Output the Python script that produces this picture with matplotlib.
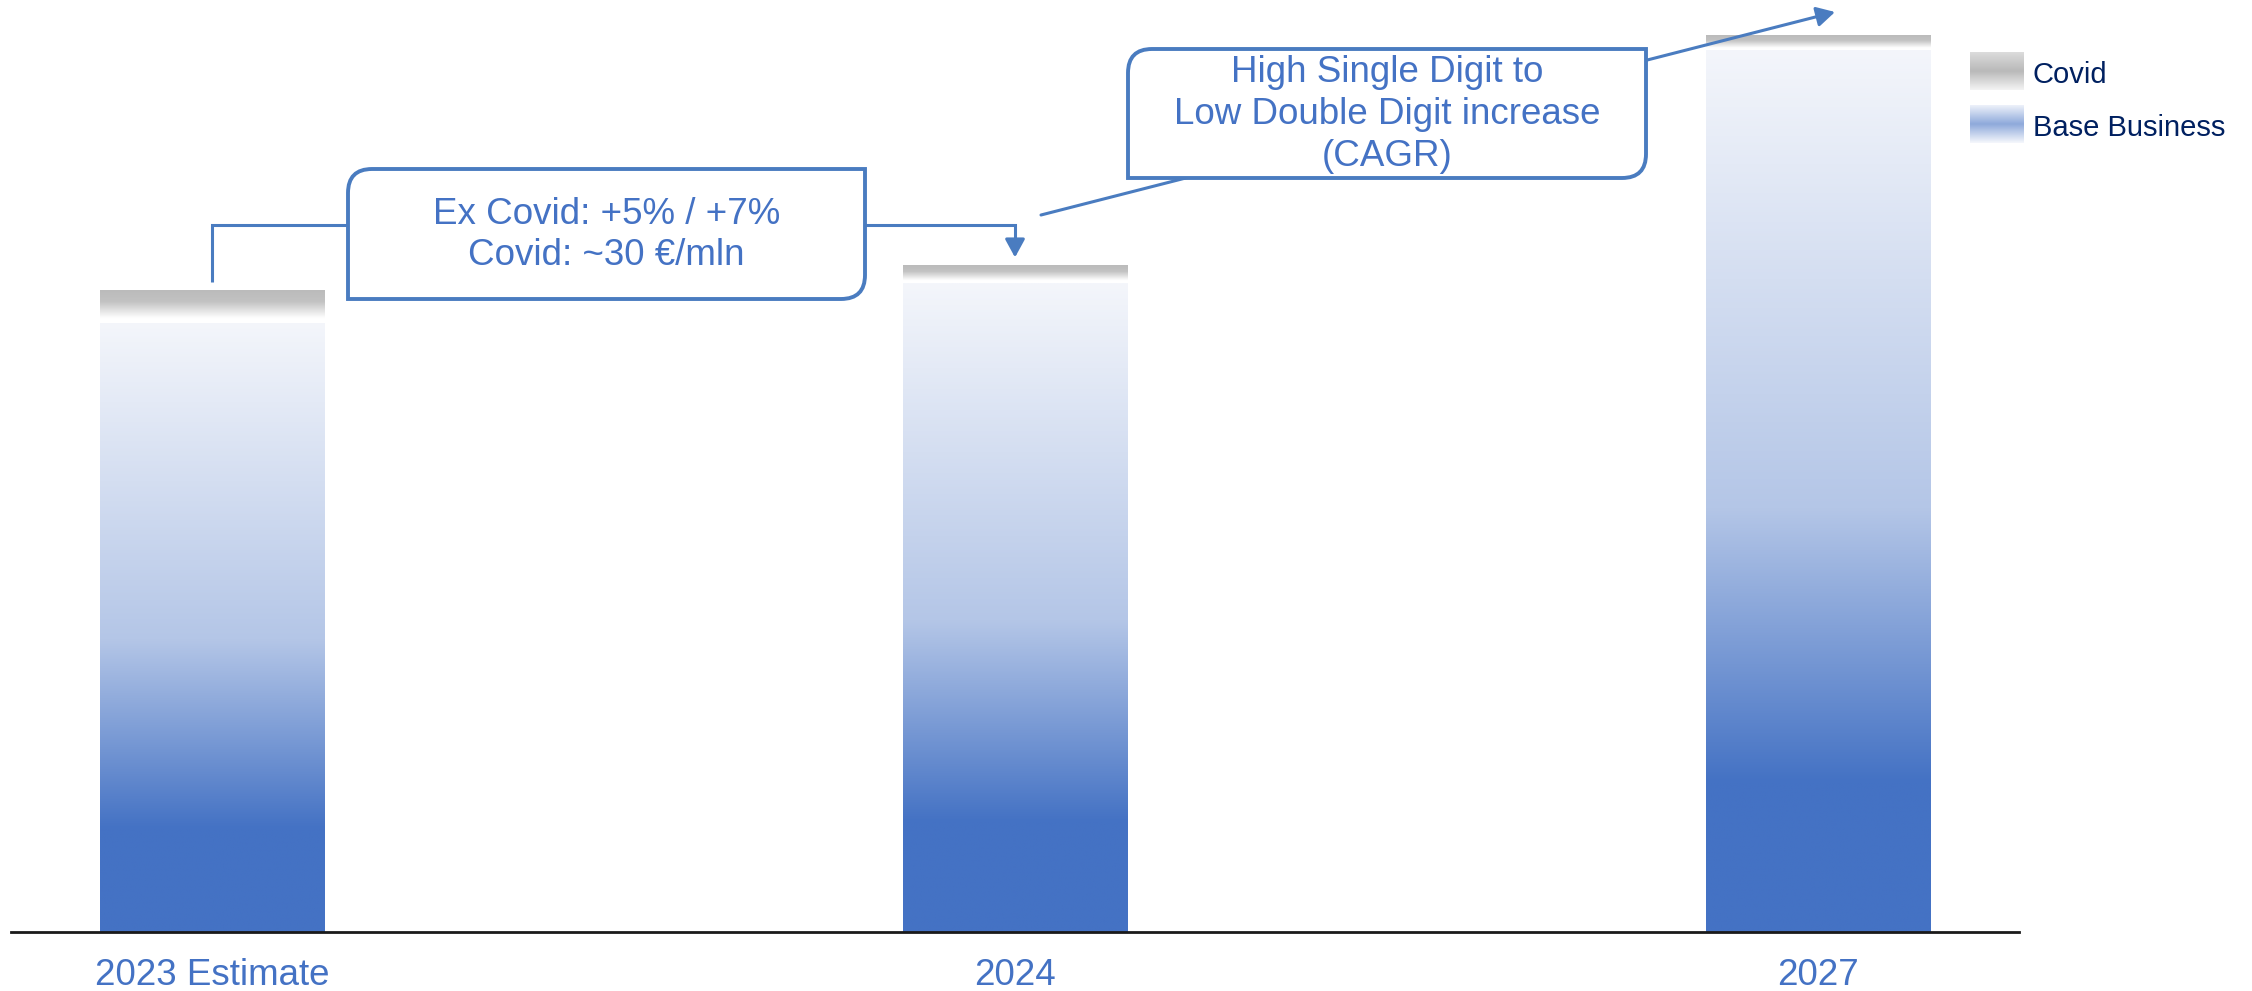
import numpy as np
import matplotlib
matplotlib.use('Agg')
import matplotlib.pyplot as plt
from matplotlib.path import Path
from matplotlib.patches import PathPatch
from matplotlib.colors import to_rgb

plt.rcParams['font.family'] = ['Liberation Sans', 'DejaVu Sans']

# ---------------- data ----------------
categories = ['2023 Estimate', '2024', '2027']
base_business = [554, 590, 802]   # €mln
covid = [30, 16, 13]              # €mln
series_labels = ['Covid', 'Base Business']
box1_lines = ['Ex Covid: +5% / +7%', 'Covid: ~30 €/mln']
box2_lines = ['High Single Digit to', 'Low Double Digit increase', '(CAGR)']

# ---------------- style ----------------
W, H, DPI = 2252, 991, 100
TEXT_BLUE = '#4472C4'
LINE_BLUE = '#4A7CC0'
NAVY = '#002060'


def gradient(stops, n=500):
    pos = [s[0] for s in stops]
    cols = np.array([to_rgb(s[1]) for s in stops])
    t = np.linspace(0, 1, n)
    arr = np.stack([np.interp(t, pos, cols[:, k]) for k in range(3)], axis=-1)
    return arr[:, None, :]


base_grad = gradient([(0, '#F4F6FB'), (0.52, '#B4C6E7'), (0.83, '#4472C4'), (1, '#4472C4')])
covid_grad = gradient([(0, '#BBBBBB'), (0.35, '#C2C2C2'), (0.85, '#FFFFFF'), (1, '#FFFFFF')])
covid_leg = gradient([(0, '#DCDCDC'), (0.5, '#B9B9B9'), (1, '#F4F4F4')])
base_leg = gradient([(0, '#EEF2FA'), (0.5, '#8EA9DB'), (1, '#F6F8FC')])

fig = plt.figure(figsize=(W / DPI, H / DPI), dpi=DPI)
ax = fig.add_axes([11 / W, 59 / H, 2008 / W, 932 / H])

x = np.arange(len(categories))
width = 0.279
base_bars = ax.bar(x, base_business, width, color='none', linewidth=0)
covid_bars = ax.bar(x, covid, width, bottom=base_business, color='none', linewidth=0)
for bars, grad in ((base_bars, base_grad), (covid_bars, covid_grad)):
    for b in bars:
        x0, y0 = b.get_x(), b.get_y()
        ax.imshow(grad, extent=[x0, x0 + b.get_width(), y0, y0 + b.get_height()],
                  aspect='auto', interpolation='bilinear', origin='upper', zorder=2)

ax.set_xlim(-0.25, 2.25)
ax.set_ylim(0, 847.3)
for s in ('top', 'right', 'left'):
    ax.spines[s].set_visible(False)
ax.spines['bottom'].set_linewidth(2.0)
ax.spines['bottom'].set_color('#1a1a1a')
ax.spines['bottom'].set_zorder(5)
ax.set_yticks([])
ax.set_xticks(x, categories)
ax.tick_params(axis='x', length=0, pad=19, labelsize=26.5, labelcolor=TEXT_BLUE)
ax.patch.set_alpha(0)

# ---------------- overlay in pixel coordinates ----------------
ov = fig.add_axes([0, 0, 1, 1])
ov.set_xlim(0, W)
ov.set_ylim(0, H)
ov.axis('off')
ov.patch.set_alpha(0)


def to_px(xd, yd):
    return ov.transData.inverted().transform(ax.transData.transform((xd, yd)))


tops = [to_px(x[i], base_business[i] + covid[i]) for i in range(len(x))]


def diag_round_box(x0, y0, x1, y1, r):
    verts = [(x0 + r, y1), (x1, y1), (x1, y0 + r), (x1, y0), (x1 - r, y0),
             (x0, y0), (x0, y1 - r), (x0, y1), (x0 + r, y1), (x0 + r, y1)]
    codes = [Path.MOVETO, Path.LINETO, Path.LINETO, Path.CURVE3, Path.CURVE3,
             Path.LINETO, Path.LINETO, Path.CURVE3, Path.CURVE3, Path.CLOSEPOLY]
    return Path(verts, codes)


arrow_style = dict(arrowstyle='-|>,head_length=0.55,head_width=0.3', color=LINE_BLUE,
                   lw=2.2, shrinkA=0, shrinkB=0, mutation_scale=20)

# box 1 + elbow connector
b1x0, b1x1, b1y0, b1y1 = 348, 865, 692, 822
y_conn = 766
gap = 8
ov.plot([tops[0][0], tops[0][0], b1x0], [tops[0][1] + gap, y_conn, y_conn],
        color=LINE_BLUE, lw=2.2, solid_joinstyle='miter', solid_capstyle='butt', zorder=2)
tip2 = tops[1][1] + gap
ov.plot([b1x1, tops[1][0], tops[1][0]], [y_conn, y_conn, tip2 + 12],
        color=LINE_BLUE, lw=2.2, solid_joinstyle='miter', solid_capstyle='butt', zorder=2)
ov.annotate('', xy=(tops[1][0], tip2), xytext=(tops[1][0], tip2 + 16),
            arrowprops=arrow_style, zorder=2)
ov.add_patch(PathPatch(diag_round_box(b1x0, b1y0, b1x1, b1y1, 24),
                       facecolor='white', edgecolor=LINE_BLUE, lw=2.8, zorder=3))
ov.text((b1x0 + b1x1) / 2, (b1y0 + b1y1) / 2 - 1, '\n'.join(box1_lines), ha='center', va='center',
        fontsize=26.5, color=TEXT_BLUE, linespacing=1.25, zorder=4)

# box 2 + trend arrow
b2x0, b2x1, b2y0, b2y1 = 1128, 1646, 813, 942
ov.annotate('', xy=(1835, 979), xytext=(1041, 776), arrowprops=arrow_style, zorder=2)
ov.add_patch(PathPatch(diag_round_box(b2x0, b2y0, b2x1, b2y1, 24),
                       facecolor='white', edgecolor=LINE_BLUE, lw=2.8, zorder=3))
ov.text((b2x0 + b2x1) / 2, (b2y0 + b2y1) / 2 - 1, '\n'.join(box2_lines), ha='center', va='center',
        fontsize=26.5, color=TEXT_BLUE, linespacing=1.25, zorder=4)

# ---------------- legend ----------------
for (ypix, grad, label) in ((901, covid_leg, series_labels[0]), (848, base_leg, series_labels[1])):
    lax = fig.add_axes([1970 / W, ypix / H, 54 / W, 38 / H])
    lax.imshow(grad, aspect='auto', interpolation='bilinear')
    lax.axis('off')
    fig.text(2033 / W, (ypix + 15) / H, label, ha='left', va='center', fontsize=21, color=NAVY)

fig.savefig('out.png', dpi=DPI)
